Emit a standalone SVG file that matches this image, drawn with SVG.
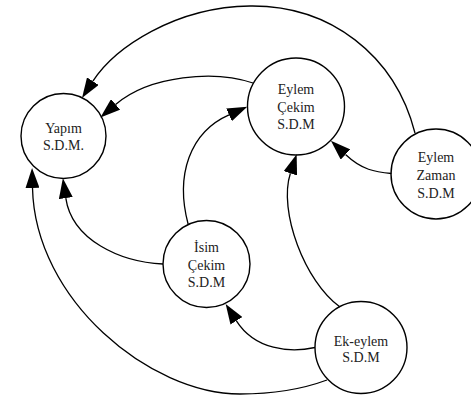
<svg xmlns="http://www.w3.org/2000/svg" width="471" height="397" viewBox="0 0 471 397">
<defs>
<marker id="ah" markerUnits="userSpaceOnUse" markerWidth="20" markerHeight="14" viewBox="0 0 20 14" refX="0" refY="7" orient="auto">
<path d="M0,0 L20,7 L0,14 Z" fill="#000"/>
</marker>
<style>
.node circle{fill:#fff;stroke:#000;stroke-width:1.4}
.node text{font-family:"Liberation Serif","Times New Roman",serif;font-size:14px;fill:#222;text-anchor:middle}
.edges path{fill:none;stroke:#000;stroke-width:1.3;marker-end:url(#ah)}
</style>
</defs>
<rect width="471" height="397" fill="#fff"/>
<g id="yapim" class="node">
<circle cx="63.5" cy="136" r="42.5"/>
<text x="63.5" y="132.5">Yapım</text>
<text x="63.5" y="150">S.D.M.</text>
</g>
<g id="eylem-cekim" class="node">
<circle cx="296" cy="106.5" r="48.5"/>
<text x="296" y="94">Eylem</text>
<text x="296" y="111.5">Çekim</text>
<text x="296" y="129">S.D.M</text>
</g>
<g id="eylem-zaman" class="node">
<circle cx="436" cy="174" r="45"/>
<text x="436" y="162">Eylem</text>
<text x="436" y="180">Zaman</text>
<text x="436" y="198">S.D.M</text>
</g>
<g id="isim-cekim" class="node">
<circle cx="206.5" cy="264" r="43.5"/>
<text x="206.5" y="251.7">İsim</text>
<text x="206.5" y="269.5">Çekim</text>
<text x="206.5" y="287">S.D.M</text>
</g>
<g id="ek-eylem" class="node">
<circle cx="361" cy="347.5" r="46"/>
<text x="361" y="345.5">Ek-eylem</text>
<text x="361" y="362">S.D.M</text>
</g>
<g id="connectors" class="edges">
<path d="M415,133 C395,55 330,5 250,6 C175,7 114.7,47.6 92.9,81.2"/>
<path d="M253,83 C215,70 150,75 115.6,104.4"/>
<path d="M163,264 C120,262 72,240 65.8,198.1"/>
<path d="M327,380 C300,390 270,394 240,394 C150,394 35,300 32.5,188"/>
<path d="M188.2,224.5 C175,175 190,132 229,114.8"/>
<path d="M391.5,173.5 C375,172 362,170 345.5,154.5"/>
<path d="M340,307 C305,282 278,211 290.4,173.3"/>
<path d="M315,347.5 C290,353 255,350 236.4,320.8"/>
</g>
</svg>
